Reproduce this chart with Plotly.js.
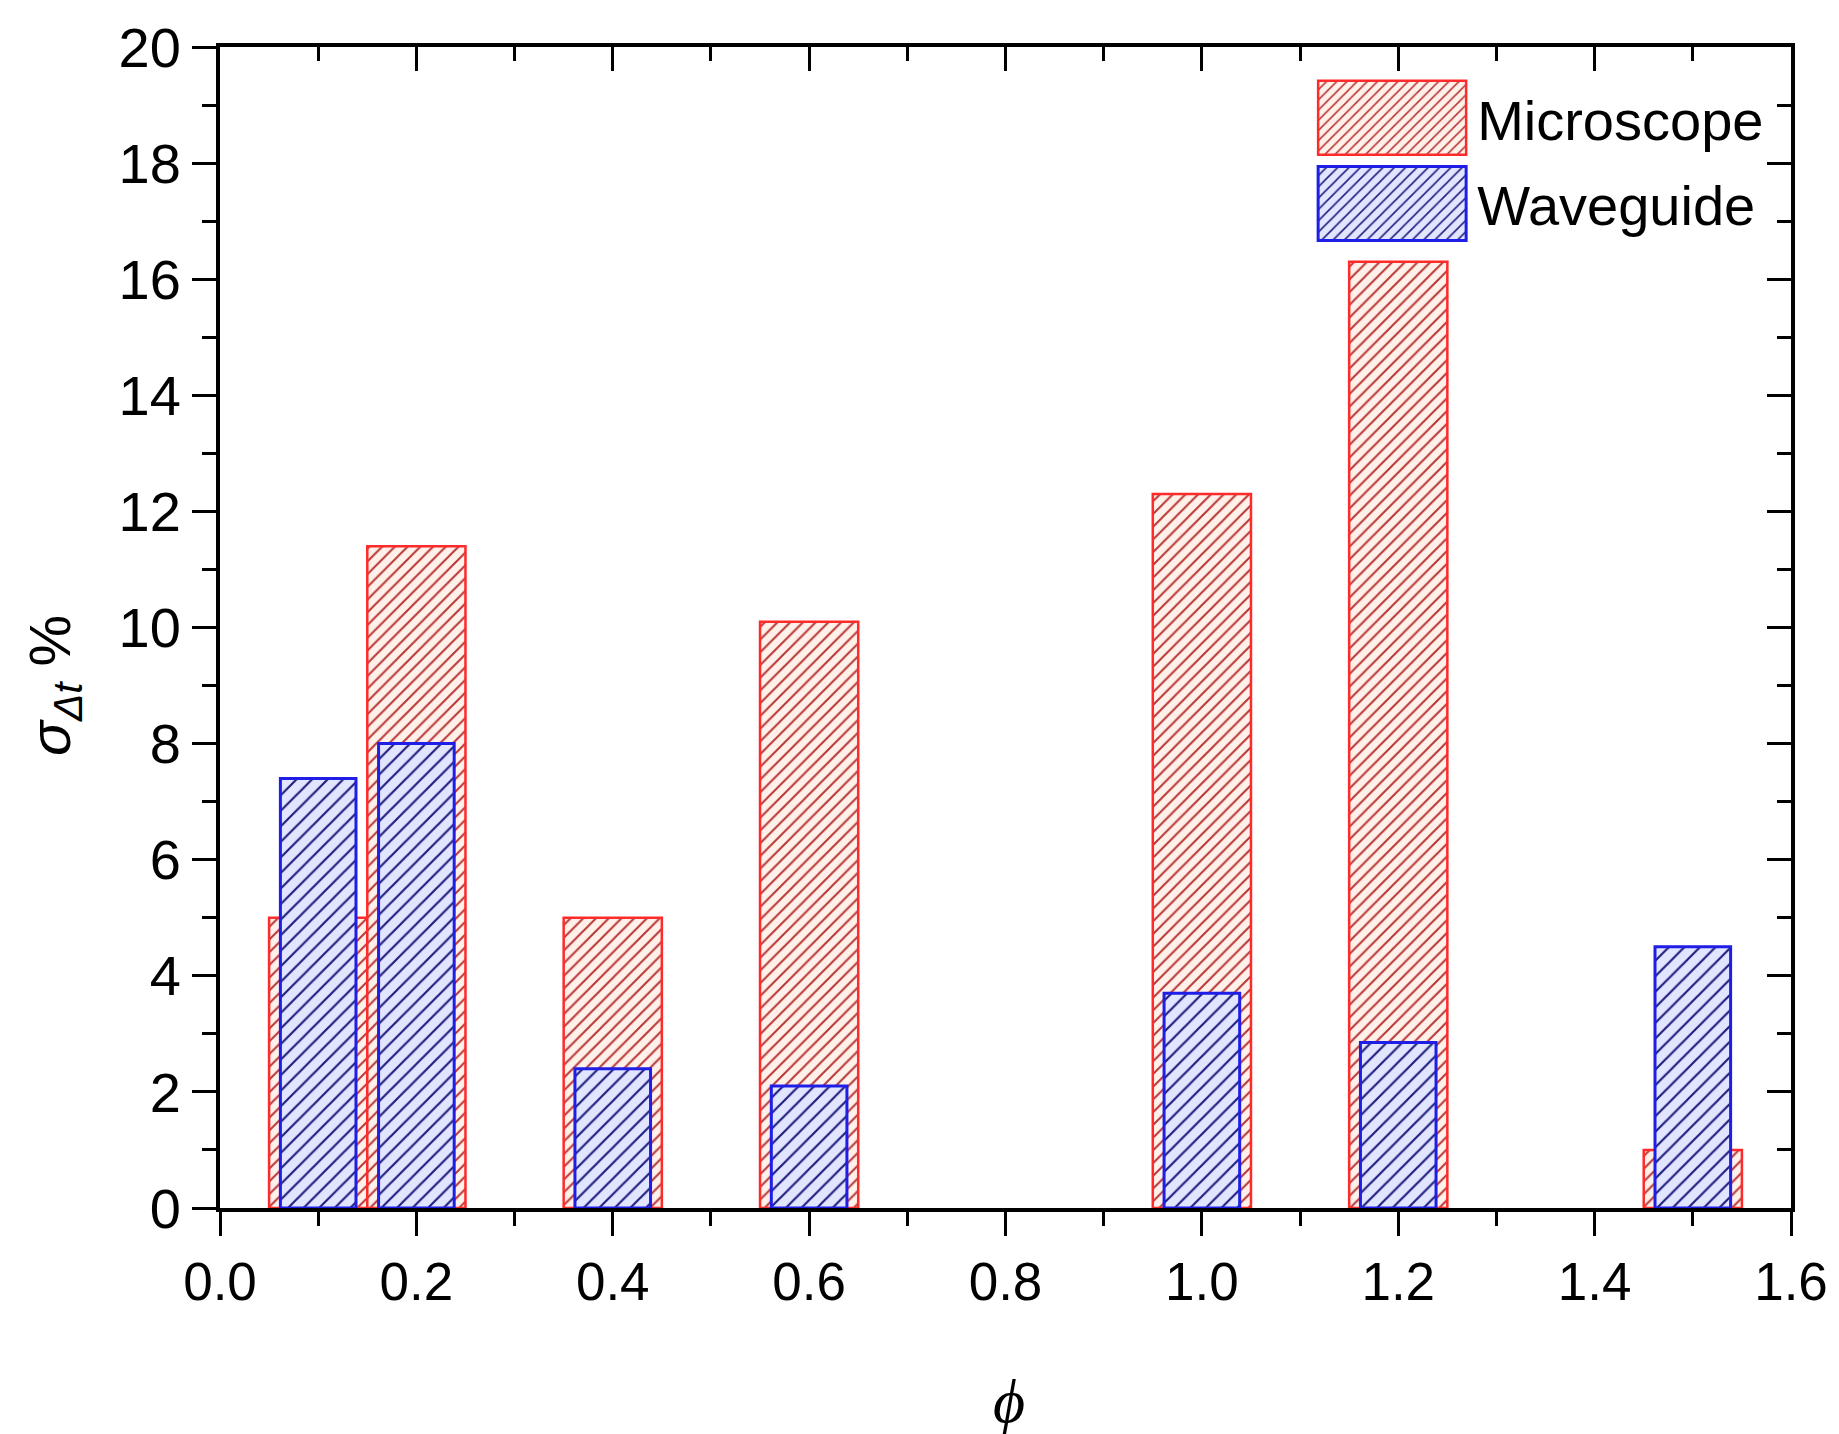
<!DOCTYPE html>
<html>
<head>
<meta charset="utf-8">
<script src="https://cdn.plot.ly/plotly-3.0.1.min.js"></script>
<style>
  html, body { margin: 0; padding: 0; background: #ffffff; }
  #chart { width: 1839px; height: 1434px; }
</style>
</head>
<body>
<div id="chart"></div>
<script>
// ---- data ----
const phi = [0.1, 0.2, 0.4, 0.6, 1.0, 1.2, 1.5];
const microscope = [5.0, 11.4, 5.0, 10.1, 12.3, 16.3, 1.0];
const waveguide = [7.4, 8.0, 2.4, 2.1, 3.7, 2.85, 4.5];
const seriesNames = ['Microscope', 'Waveguide'];
const xTickVals = [0, 0.2, 0.4, 0.6, 0.8, 1.0, 1.2, 1.4, 1.6];
const yTickVals = [0, 2, 4, 6, 8, 10, 12, 14, 16, 18, 20];

const FONT = 'Liberation Sans, Arial, sans-serif';

const traces = [
  {
    type: 'bar',
    name: seriesNames[0],
    legendgroup: 'm',
    x: phi,
    y: microscope,
    width: 0.1,
    marker: {
      color: '#fdeee8',
      line: { color: '#ff2a2a', width: 2.5 },
      pattern: { shape: '/', fgcolor: '#b83838', bgcolor: '#fff0ea', size: 9, solidity: 0.22, fillmode: 'replace' }
    },
    xaxis: 'x', yaxis: 'y'
  },
  {
    type: 'bar',
    name: seriesNames[1],
    legendgroup: 'w',
    x: phi,
    y: waveguide,
    width: 0.077,
    marker: {
      color: '#e0e3ff',
      line: { color: '#1e1ee6', width: 3 },
      pattern: { shape: '/', fgcolor: '#202080', bgcolor: '#e2e5ff', size: 11, solidity: 0.2, fillmode: 'replace' }
    },
    xaxis: 'x', yaxis: 'y'
  },
  {
    // invisible helper so the mirrored (top/right) frame axes get drawn
    type: 'scatter', mode: 'markers',
    x: phi, y: microscope,
    marker: { opacity: 0, size: 1 },
    showlegend: false, hoverinfo: 'skip',
    xaxis: 'x2', yaxis: 'y2'
  }
];

const axisCommon = {
  showline: true, linecolor: '#000', linewidth: 4,
  tickcolor: '#000', tickwidth: 3, ticklen: 24,
  showgrid: false, zeroline: false
};

const layout = {
  width: 1839, height: 1434,
  margin: { l: 220, r: 48, t: 47, b: 226 },
  paper_bgcolor: '#ffffff', plot_bgcolor: '#ffffff',
  barmode: 'overlay',
  bargap: 0,
  showlegend: true,
  legend: {
    x: 0.692, y: 0.976, xanchor: 'left', yanchor: 'top',
    bgcolor: 'rgba(0,0,0,0)', borderwidth: 0,
    font: { family: FONT, size: 56, color: '#000' },
    itemwidth: 160,
    traceorder: 'grouped',
    tracegroupgap: 10
  },
  xaxis: Object.assign({}, axisCommon, {
    range: [0, 1.6], tickmode: 'array', tickvals: xTickVals, tickformat: '.1f',
    ticks: 'outside',
    minor: { dtick: 0.1, ticks: 'outside', ticklen: 14, tickwidth: 3, tickcolor: '#000' },
    tickfont: { family: FONT, size: 53, color: '#000' },
    anchor: 'y'
  }),
  yaxis: Object.assign({}, axisCommon, {
    range: [0, 20], tickmode: 'array', tickvals: yTickVals,
    ticks: 'outside',
    minor: { dtick: 1, ticks: 'outside', ticklen: 14, tickwidth: 3, tickcolor: '#000' },
    tickfont: { family: FONT, size: 56, color: '#000' },
    anchor: 'x'
  }),
  xaxis2: Object.assign({}, axisCommon, {
    overlaying: 'x', side: 'top', anchor: 'y2',
    range: [0, 1.6], tickmode: 'array', tickvals: xTickVals,
    ticks: 'inside', showticklabels: false,
    minor: { dtick: 0.1, ticks: 'inside', ticklen: 14, tickwidth: 3, tickcolor: '#000' }
  }),
  yaxis2: Object.assign({}, axisCommon, {
    overlaying: 'y', side: 'right', anchor: 'x2',
    range: [0, 20], tickmode: 'array', tickvals: yTickVals,
    ticks: 'inside', showticklabels: false,
    minor: { dtick: 1, ticks: 'inside', ticklen: 14, tickwidth: 3, tickcolor: '#000' }
  }),
  annotations: [
    {
      text: '<i>σ</i><sub><i>Δt</i></sub> %',
      xref: 'paper', yref: 'paper', x: -0.106, y: 0.45,
      xanchor: 'center', yanchor: 'middle', textangle: -90, showarrow: false,
      font: { family: FONT, size: 58, color: '#000' }
    },
    {
      text: '<i>ϕ</i>',
      xref: 'paper', yref: 'paper', x: 0.502, y: -0.166,
      xanchor: 'center', yanchor: 'middle', showarrow: false,
      font: { family: 'Liberation Serif, Times New Roman, serif', size: 62, color: '#000' }
    }
  ]
};

Plotly.newPlot('chart', traces, layout, { displayModeBar: false, staticPlot: true }).then(function (gd) {
  // enlarge the legend swatches to match the reference's large boxes
  const paths = gd.querySelectorAll('.legend .legendpoints path');
  paths.forEach(function (p) {
    p.setAttribute('d', 'M74,37H-74V-37H74Z');
  });
});
</script>
</body>
</html>
